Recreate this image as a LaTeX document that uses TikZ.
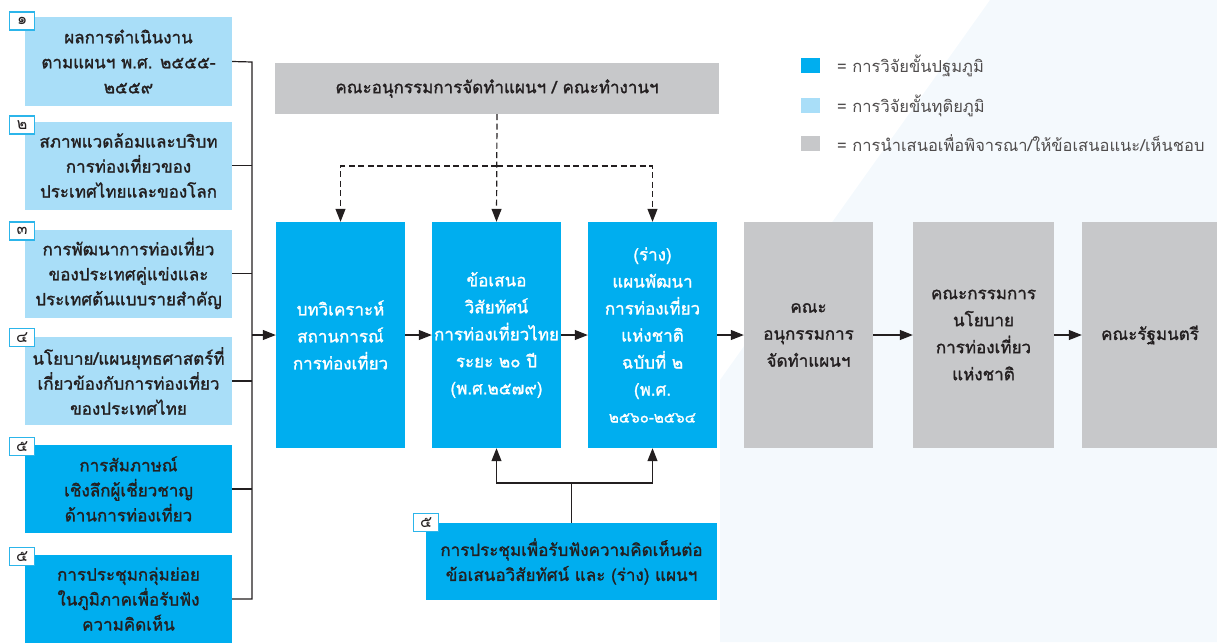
\documentclass[tikz,border=0pt]{standalone}
\usepackage{fontspec}
\newfontfamily\thaifont[Script=Thai]{Loma}
\newfontfamily\thaiheavy[Script=Thai, FakeBold=1.4]{Loma}
\usetikzlibrary{arrows.meta,positioning,calc}

\definecolor{primblue}{HTML}{00AEEF}
\definecolor{secblue}{HTML}{A9DEF8}
\definecolor{propgray}{HTML}{C7C8CA}
\definecolor{inkgray}{HTML}{231F20}
\definecolor{tabedge}{HTML}{2CB5EA}
\definecolor{bgtint}{HTML}{F4F9FD}

\tikzset{
  box/.style={inner sep=2pt, align=center, text=inkgray,
    font=\thaiheavy\fontsize{17}{25}\selectfont},
  srcbox/.style={box, minimum width=207pt, minimum height=88pt},
  stagebox/.style={box, minimum width=129pt, minimum height=226pt,
    font=\thaiheavy\fontsize{17}{27}\selectfont},
  numtab/.style={draw=tabedge, line width=1.6pt, fill=white, text=inkgray,
    minimum width=25pt, minimum height=18pt, inner sep=0pt,
    font=\thaifont\fontsize{16}{16}\selectfont},
  plain/.style={draw=inkgray, line width=1.2pt},
  flow/.style={plain, -{Triangle[length=13pt,width=10pt]}},
  dashflow/.style={flow, dash pattern=on 6pt off 3.5pt},
  legsq/.style={minimum width=19pt, minimum height=15pt, inner sep=0pt},
  legtext/.style={anchor=west, text=inkgray!80, inner sep=0pt,
    font=\thaifont\fontsize{16.5}{16.5}\selectfont}
}

\begin{document}
\begin{tikzpicture}[x=1pt, y=-1pt]
\useasboundingbox (0,0) rectangle (1217,642);
\fill[bgtint] (720,642) -- (720,380) -- (990,0) -- (1217,0) -- (1217,642) -- cycle;

% source boxes on the left
\node[srcbox, fill=secblue] (b1) at (128.5,61.5) {ผลการดำเนินงาน\\ตามแผนฯ พ.ศ. ๒๕๕๕-\\๒๕๕๙};
\node[srcbox, fill=secblue] (b2) at (128.5,165.5) {สภาพแวดล้อมและบริบท\\การท่องเที่ยวของ\\ประเทศไทยและของโลก};
\node[srcbox, fill=secblue] (b3) at (128.5,273.5) {การพัฒนาการท่องเที่ยว\\ของประเทศคู่แข่งและ\\ประเทศต้นแบบรายสำคัญ};
\node[srcbox, fill=secblue] (b4) at (128.5,381) {นโยบาย/แผนยุทธศาสตร์ที่\\เกี่ยวข้องกับการท่องเที่ยว\\ของประเทศไทย};
\node[srcbox, fill=primblue] (b5) at (128.5,489) {การสัมภาษณ์\\เชิงลึกผู้เชี่ยวชาญ\\ด้านการท่องเที่ยว};
\node[srcbox, fill=primblue] (b6) at (128.5,599) {การประชุมกลุ่มย่อย\\ในภูมิภาคเพื่อรับฟัง\\ความคิดเห็น};

\node[numtab, anchor=north west] (t1) at ([shift={(-16,-6)}]b1.north west) {๑};
\node[numtab, anchor=north west] (t2) at ([shift={(-16,-6)}]b2.north west) {๒};
\node[numtab, anchor=north west] (t3) at ([shift={(-16,-8)}]b3.north west) {๓};
\node[numtab, anchor=north west] (t4) at ([shift={(-16,-9)}]b4.north west) {๔};
\node[numtab, anchor=north west] (t5) at ([shift={(-16,-8)}]b5.north west) {๕};
\node[numtab, anchor=north west] (t6) at ([shift={(-16,-8)}]b6.north west) {๕};

% main flow
\node[stagebox, fill=primblue, text=white] (ana) at (340.5,335) {บทวิเคราะห์\\สถานการณ์\\การท่องเที่ยว};
\node[stagebox, fill=primblue, text=white] (vis) at (496.5,335) {ข้อเสนอ\\วิสัยทัศน์\\การท่องเที่ยวไทย\\ระยะ ๒๐ ปี\\(พ.ศ.๒๕๗๙)};
\node[stagebox, fill=primblue, text=white] (plan) at (652.5,335) {(ร่าง)\\แผนพัฒนา\\การท่องเที่ยว\\แห่งชาติ\\ฉบับที่ ๒\\(พ.ศ.\\{\fontsize{15}{27}\selectfont ๒๕๖๐-๒๕๖๔}};
\node[stagebox, fill=propgray] (sub) at (808.5,335) {คณะ\\อนุกรรมการ\\จัดทำแผนฯ};
\node[stagebox, fill=propgray, minimum width=141pt] (pol) at (983.5,335) {คณะกรรมการ\\นโยบาย\\การท่องเที่ยว\\แห่งชาติ};
\node[stagebox, fill=propgray, minimum width=136pt] (cab) at (1150,335) {คณะรัฐมนตรี};

\node[box, fill=propgray, minimum width=444pt, minimum height=51pt] (cmte) at (497,88.5) {คณะอนุกรรมการจัดทำแผนฯ / คณะทำงานฯ};
\node[box, fill=primblue, minimum width=291pt, minimum height=77pt] (hear) at (571.5,561.5) {การประชุมเพื่อรับฟังความคิดเห็นต่อ\\ข้อเสนอวิสัยทัศน์ และ (ร่าง) แผนฯ};
\node[numtab, anchor=north west] (t7) at ([shift={(-13,-10)}]hear.north west) {๕};

% legend
\node[legsq, fill=primblue] (lg1) at (810.5,65.5) {};
\node[legsq, fill=secblue] (lg2) at (810.5,105.5) {};
\node[legsq, fill=propgray] (lg3) at (810.5,143.5) {};
\node[legtext] (lt1) at (837,65.5) {= การวิจัยขั้นปฐมภูมิ};
\node[legtext] (lt2) at (837,105.5) {= การวิจัยขั้นทุติยภูมิ};
\node[legtext] (lt3) at (837,143.5) {= การนำเสนอเพื่อพิจารณา/ให้ข้อเสนอแนะ/เห็นชอบ};

% connectors
\coordinate (bus) at (252,62);
\draw[plain] (b1.east) -- (bus) |- (b6.east);
\foreach \b in {b2,b3,b4,b5}
  \draw[plain] (\b.east) -- (\b.east -| bus);
\draw[flow] (ana.west -| bus) -- (ana.west);
\draw[flow] (ana.east) -- (vis.west);
\draw[flow] (vis.east) -- (plan.west);
\draw[flow] (plan.east) -- (sub.west);
\draw[flow] (sub.east) -- (pol.west);
\draw[flow] (pol.east) -- (cab.west);

\coordinate (dj) at (497,166);
\draw[dashflow] (cmte.south) -- (vis.north);
\draw[dashflow] (dj) -| (ana.north);
\draw[dashflow] (dj) -| (plan.north);

\coordinate (mj) at (571.5,483);
\draw[plain] (hear.north) -- (mj);
\draw[flow] (mj) -| (vis.south);
\draw[flow] (mj) -| (plan.south);
\end{tikzpicture}
\end{document}
